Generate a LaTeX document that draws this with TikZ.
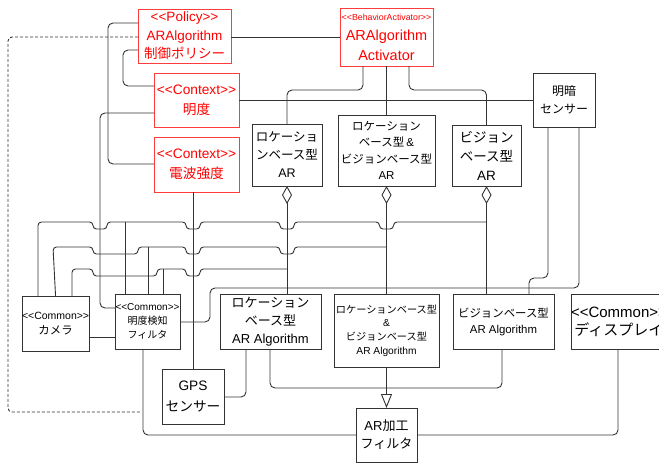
\documentclass[tikz,border=0pt]{standalone}
\usepackage{fontspec}
\setmainfont{Liberation Sans}
\newfontfamily\jpf{Noto Sans CJK JP}
\usetikzlibrary{arrows.meta}
\newcommand\J[1]{{\jpf #1}}
\newcommand\fs[2]{\fontsize{#1}{#2}\selectfont}
\newcommand\LT{<\kern0pt<}
\newcommand\GT{>\kern0pt>}
\definecolor{redt}{RGB}{255,0,0}
\definecolor{redb}{RGB}{255,60,60}
\definecolor{wirec}{RGB}{51,51,51}
\begin{document}
\begin{tikzpicture}[x=1pt,y=-1pt,
 box/.style={draw=wirec, line width=0.9pt, anchor=north west, inner sep=0pt, outer sep=0pt, align=center, fill=white, text=black},
 rbox/.style={box, draw=redb, text=redt},
 wire/.style={draw=wirec, line width=0.9pt, rounded corners=5pt},
 jwire/.style={draw=wirec, line width=0.9pt, rounded corners=3.5pt},
 agg/.style={wire, {Diamond[open, length=18pt, width=10pt]}-},
]
\useasboundingbox (0,0) rectangle (659,463);

% ---------- nodes ----------
\node[rbox, minimum width=93pt, minimum height=54pt, font=\fs{13.5}{18.5}] (policy) at (138,9) {\LT Policy\GT\\ARAlgorithm\\\J{制御ポリシー}};
\node[rbox, minimum width=93pt, minimum height=58pt, font=\fs{14.5}{20}] (act) at (340,8) {{\fs{8.8}{10}\LT BehaviorActivator\GT}\\ARAlgorithm\\Activator};
\node[rbox, minimum width=85pt, minimum height=54pt, font=\fs{13.7}{20}] (ctx1) at (154,73) {\LT Context\GT\\\J{明度}};
\node[rbox, minimum width=85pt, minimum height=55pt, font=\fs{13.7}{20}] (ctx2) at (154,137) {\LT Context\GT\\\J{電波強度}};

\node[box, minimum width=70pt, minimum height=62pt, font=\fs{12.5}{18}] (locar) at (252,124) {\J{ロケーショ}\\\J{ンベース型}\\AR};
\node[box, minimum width=97pt, minimum height=71pt, font=\fs{11.5}{16.5}] (lvar) at (338,115) {\J{ロケーション}\\\J{ベース型}\,\&\\\J{ビジョンベース型}\\AR};
\node[box, minimum width=69pt, minimum height=61pt, font=\fs{13.5}{19}] (var) at (452,125) {\J{ビジョン}\\\J{ベース型}\\AR};
\node[box, minimum width=62pt, minimum height=54pt, font=\fs{12}{18}] (light) at (533,73) {\J{明暗}\\\J{センサー}};

\node[box, minimum width=62pt, minimum height=55pt, font=\fs{11.4}{15}] (camera) at (22,296) {{\fs{10.5}{12}\LT Common\GT}\\\J{カメラ}};
\node[box, minimum width=65pt, minimum height=55pt, font=\fs{10}{14}] (lfilter) at (115,294) {\LT Common\GT\\\J{明度検知}\\\J{フィルタ}};
\node[box, minimum width=101pt, minimum height=55pt, font=\fs{13}{18}] (laalg) at (220,294) {\J{ロケーション}\\\J{ベース型}\\AR Algorithm};
\node[box, minimum width=62pt, minimum height=55pt, font=\fs{13.7}{21}] (gps) at (162,369) {GPS\\\J{センサー}};
\node[box, minimum width=105pt, minimum height=73pt, font=\fs{10.2}{13.7}] (lvaalg) at (334,294) {\J{ロケーションベース型}\\\&\\\J{ビジョンベース型}\\AR Algorithm};
\node[box, minimum width=101pt, minimum height=55pt, font=\fs{11.4}{16}] (vaalg) at (453,294) {\J{ビジョンベース型}\\AR Algorithm};
\node[box, minimum width=94pt, minimum height=55pt, font=\fs{15}{18}] (disp) at (571,294) {\LT Common\GT\\\J{ディスプレイ}};
\node[box, minimum width=61pt, minimum height=54pt, font=\fs{13}{18}] (arf) at (356,408) {AR\J{加工}\\\J{フィルタ}};

% ---------- connectors ----------
\draw[wire] (policy.west |- 0,23) -- (108,23) -- (108,164) -- (ctx2.west |- 0,164);
\draw[wire] (policy.west |- 0,50) -- (123,50) -- (123,86) -- (ctx1.west |- 0,86);
\draw[wire, dash pattern=on 3pt off 2pt, rounded corners=4pt] (policy.west |- 0,37) -- (8,37) -- (8,412) -- (141,412);
\draw[wire] (policy.east |- 0,37) -- (act.west |- 0,37);

\draw[wire] (act.south -| 363,0) -- (363,90) -- (locar.north |- 0,90) -- (locar.north);
\draw[wire] (act.south) -- (lvar.north);
\draw[wire] (act.south -| 409,0) -- (409,90) -- (var.north |- 0,90) -- (var.north);

\draw[wire] (ctx1.east |- 0,100) -- (light.west |- 0,100);
\draw[wire] (gps.north |- ctx2.south) -- (gps.north);
\draw[wire] (ctx1.west |- 0,113) -- (100,113) -- (100,308) -- (lfilter.west |- 0,308);

\draw[wire] (light.south -| 548,0) -- (548,278) -- (529,278) -- (vaalg.north -| 529,0);
\draw[wire] (light.south -| 579,0) -- (579,288) -- (210,288) -- (210,322) -- (lfilter.east |- 0,322);

\draw[wire] (camera.east |- 0,337) -- (lfilter.west |- 0,337);
\draw[wire] (lfilter.south -| 143,0) -- (143,435) -- (arf.west |- 0,435);
\draw[wire] (disp.south -| 618,0) -- (618,435) -- (arf.east |- 0,435);
\draw[wire] (laalg.south -| 246,0) -- (246,397) -- (gps.east |- 0,397);
\draw[wire] (laalg.south -| 270,0) -- (270,388) -- (arf.north |- 0,388);
\draw[wire] (vaalg.south -| 502,0) -- (502,388) -- (arf.north |- 0,388);
\draw[wire, -{Triangle[open, length=14pt, width=11pt]}] (lvaalg.south) -- (arf.north);

% aggregations
\draw[agg] (locar.south) -- (locar.south |- laalg.north);
\draw[agg] (lvar.south) -- (lvaalg.north);
\draw[agg] (var.south) -- (var.south |- vaalg.north);

% bundle with line jumps
\draw[jwire] (camera.north -| 38,0) -- (38,222) -- (93,222) -- (93,229) -- (107,229) -- (107,222)
  -- (186,222) -- (186,229) -- (200,229) -- (200,222)
  -- (280,222) -- (280,229) -- (294,229) -- (294,222)
  -- (379.5,222) -- (379.5,229) -- (393.5,229) -- (393.5,222) -- (var.south |- 0,222);
\draw[jwire] (camera.north) -- (53,247) -- (93,247) -- (93,254) -- (138,254) -- (138,247)
  -- (186,247) -- (186,254) -- (200,254) -- (200,247)
  -- (280,247) -- (280,254) -- (294,254) -- (294,247) -- (lvar.south |- 0,247);
\draw[jwire] (camera.north -| 72,0) -- (72,269) -- (93,269) -- (93,276) -- (157,276) -- (157,269)
  -- (186,269) -- (186,276) -- (200,276) -- (200,269) -- (locar.south |- 0,269);
\draw[wire] (lfilter.north -| 125,0) -- (125,222);
\draw[wire] (lfilter.north -| 148,0) -- (148,247);
\draw[wire] (lfilter.north -| 163,0) -- (163,269);
\end{tikzpicture}
\end{document}
